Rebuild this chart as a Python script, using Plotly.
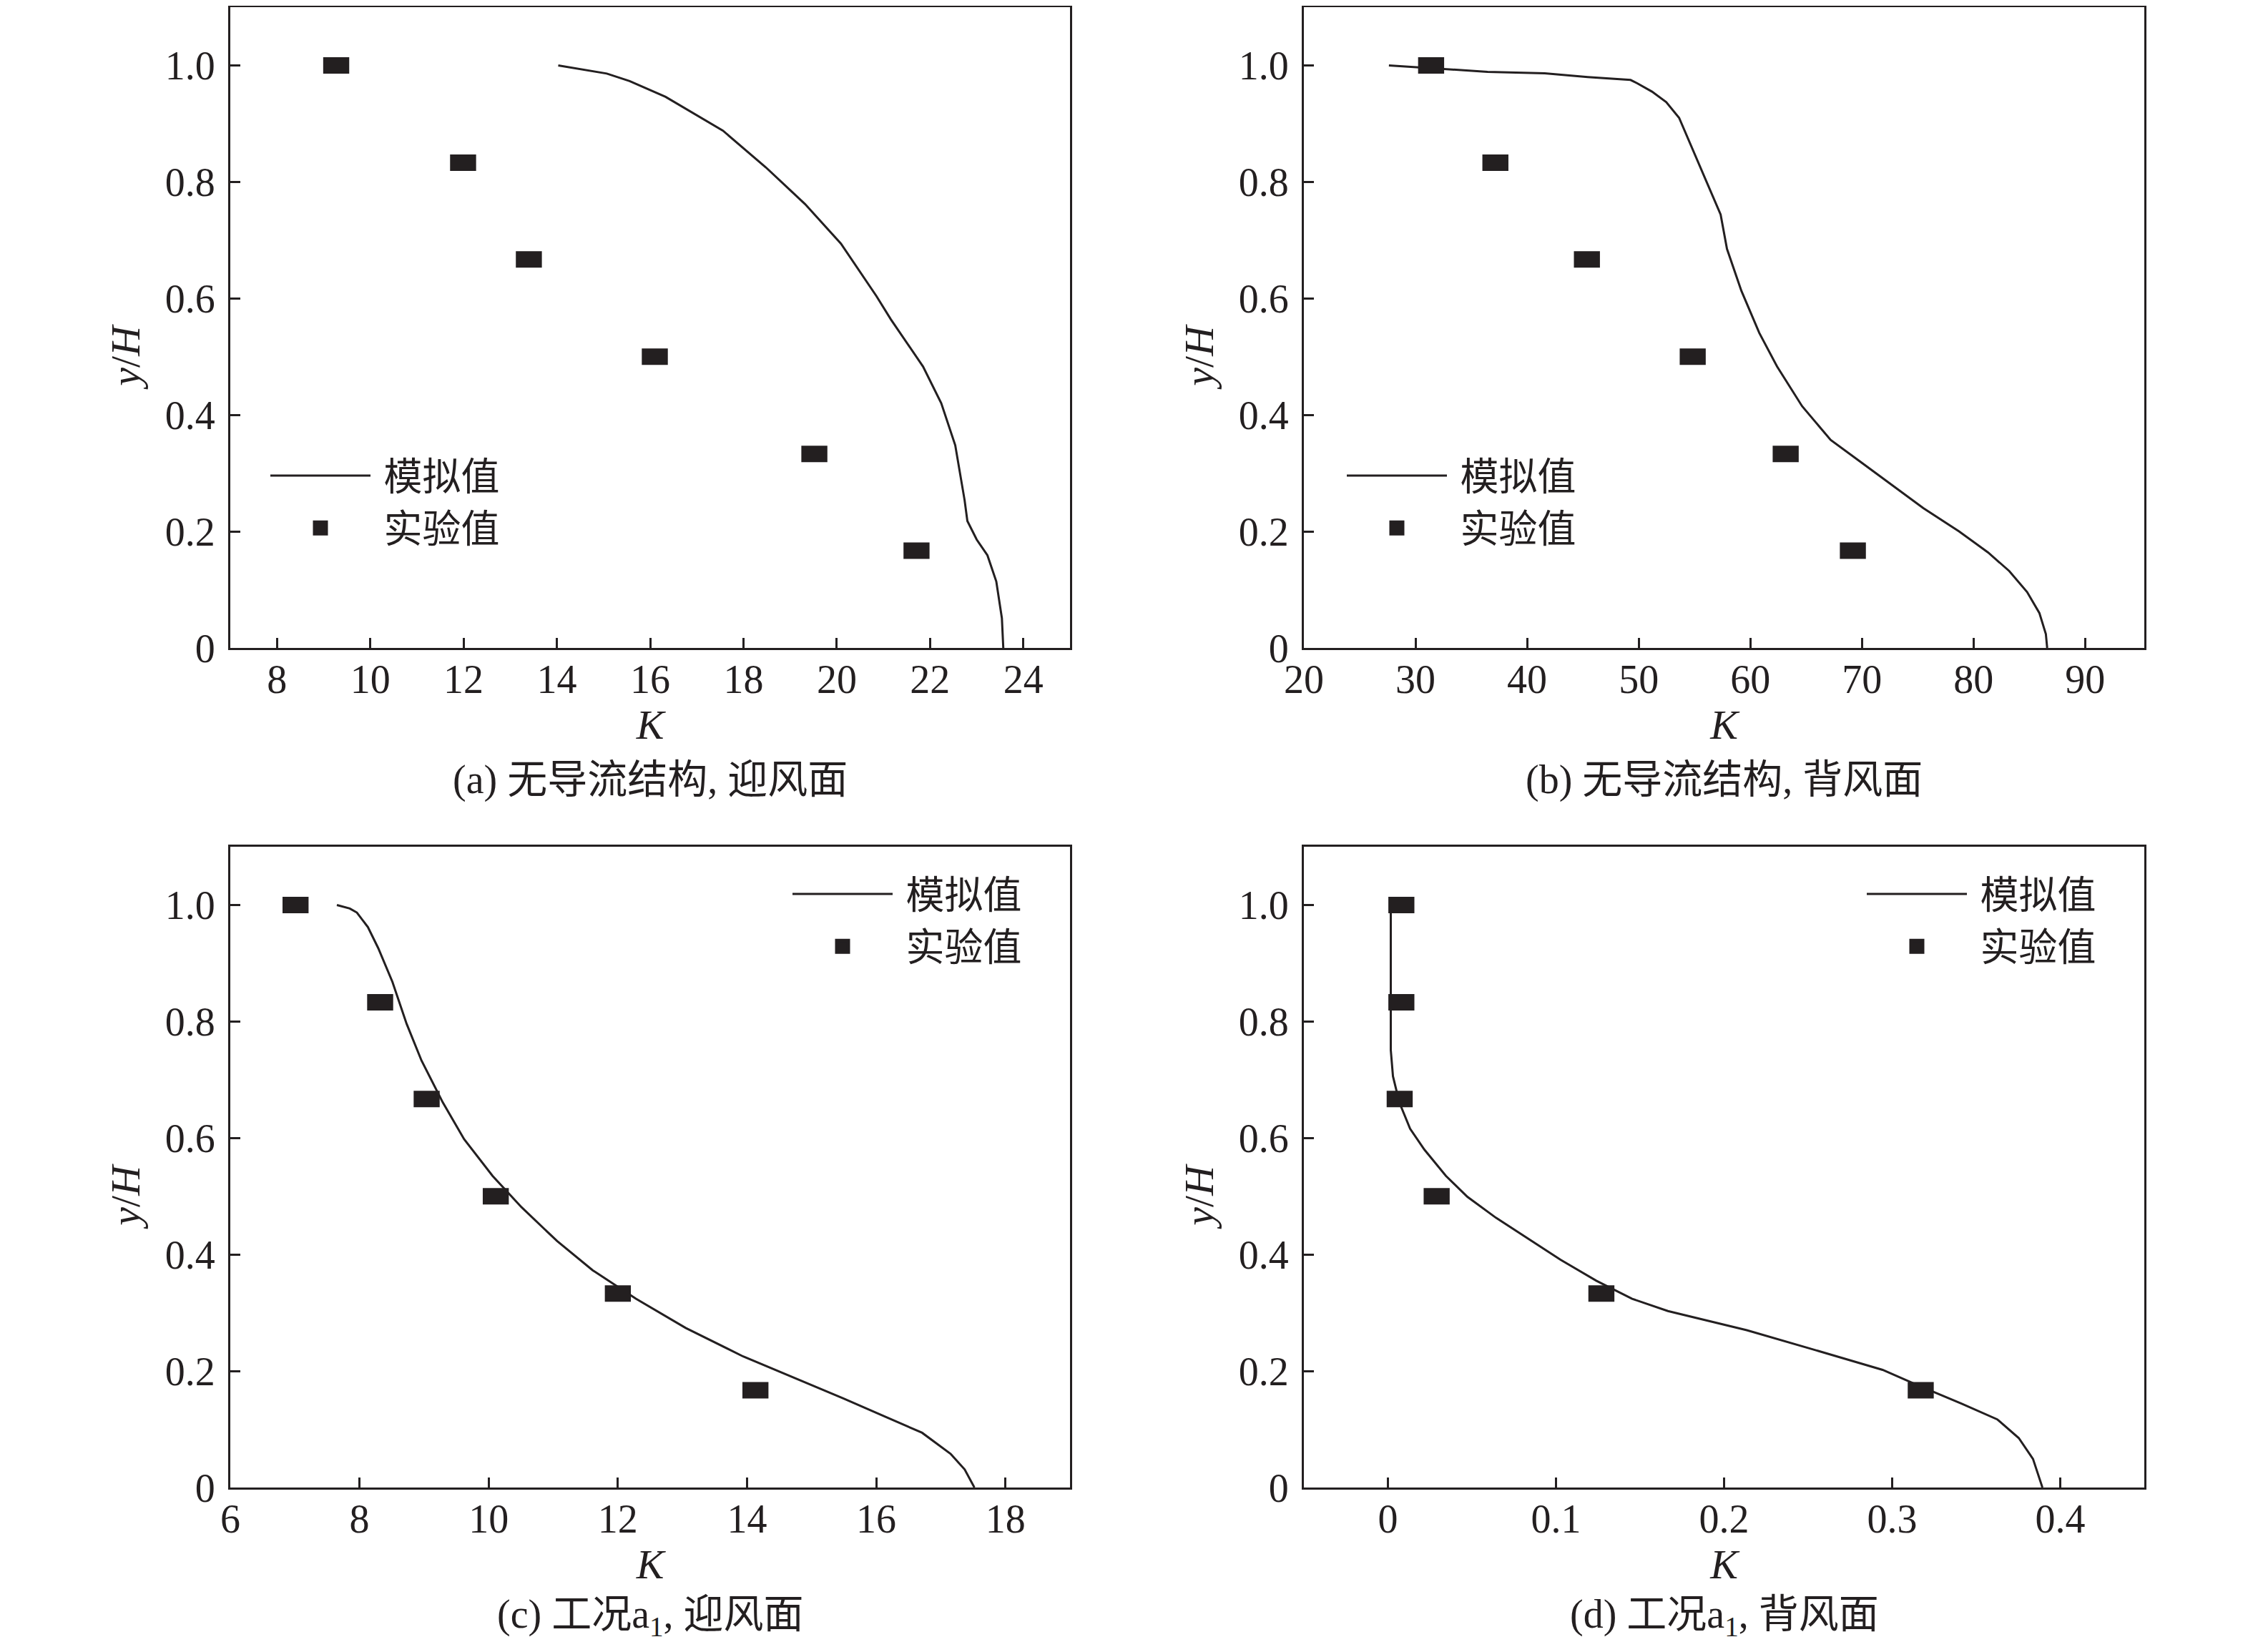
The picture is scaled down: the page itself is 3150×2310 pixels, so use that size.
import plotly.graph_objects as go

INK = "#231f20"
FONT = "Liberation Serif, 'Times New Roman', 'Noto Sans CJK SC', serif"
W, H = 3150, 2310

# heights of the six measuring points (same for every panel)
y_exp = [1.0, 0.833, 0.667, 0.5, 0.333, 0.167]

# (a) no guide structure, windward
a_k_exp = [9.27, 11.99, 13.40, 16.10, 19.52, 21.71]
a_k_sim = [14.03, 15.07, 15.56, 16.33, 17.56, 18.48, 19.32, 20.09, 20.85, 21.16,
           21.85, 22.24, 22.54, 22.74, 22.80, 23.00, 23.23, 23.42, 23.54, 23.57]
a_y_sim = [1.0, 0.986, 0.973, 0.946, 0.888, 0.825, 0.762, 0.694, 0.604, 0.564,
           0.483, 0.420, 0.348, 0.254, 0.218, 0.186, 0.159, 0.114, 0.051, 0.0]

# (b) no guide structure, leeward
b_k_exp = [31.4, 37.16, 45.36, 54.84, 63.17, 69.19]
b_k_sim = [27.62, 31.34, 36.46, 41.58, 45.43, 49.27, 49.9, 51.19, 52.47, 53.62,
           55.03, 56.95, 57.34, 57.91, 59.2, 60.8, 62.4, 64.64, 67.2, 69.76,
           72.3, 75.5, 78.7, 81.3, 83.2, 84.8, 85.9, 86.48, 86.6]
b_y_sim = [1.0, 0.9955, 0.989, 0.9865, 0.980, 0.975, 0.969, 0.955, 0.937, 0.910,
           0.847, 0.762, 0.744, 0.685, 0.613, 0.541, 0.483, 0.415, 0.357, 0.321,
           0.285, 0.240, 0.200, 0.164, 0.132, 0.096, 0.060, 0.024, 0.0]

# (c) case a1, windward
c_k_exp = [7.01, 8.32, 9.04, 10.11, 12.0, 14.13]
c_k_sim = [7.65, 7.85, 7.96, 8.13, 8.29, 8.51, 8.73, 8.96, 9.29, 9.62, 10.06,
           10.51, 11.06, 11.61, 12.28, 13.05, 13.94, 14.71, 15.49, 16.15, 16.71,
           17.15, 17.37, 17.52]
c_y_sim = [1.0, 0.994, 0.987, 0.962, 0.926, 0.868, 0.796, 0.733, 0.661, 0.598,
           0.535, 0.481, 0.423, 0.373, 0.324, 0.274, 0.225, 0.189, 0.153, 0.121,
           0.094, 0.058, 0.031, 0.0]

# (d) case a1, leeward
d_k_exp = [0.008, 0.008, 0.007, 0.029, 0.127, 0.317]
d_k_sim = [0.0017, 0.0017, 0.0017, 0.003, 0.0068, 0.0132, 0.0217, 0.0345, 0.0473,
           0.0643, 0.0856, 0.1027, 0.124, 0.1453, 0.1666, 0.1879, 0.2135, 0.2518,
           0.2943, 0.3156, 0.3412, 0.3625, 0.3753, 0.3838, 0.3894]
d_y_sim = [1.0, 0.859, 0.751, 0.706, 0.661, 0.616, 0.580, 0.535, 0.499, 0.463,
           0.423, 0.391, 0.355, 0.324, 0.303, 0.288, 0.270, 0.238, 0.202, 0.175,
           0.144, 0.117, 0.085, 0.049, 0.0]

y_ticks = [0, 0.2, 0.4, 0.6, 0.8, 1.0]
y_ticktext = ["0", "0.2", "0.4", "0.6", "0.8", "1.0"]
a_ticks = [8, 10, 12, 14, 16, 18, 20, 22, 24]
b_ticks = [20, 30, 40, 50, 60, 70, 80, 90]
c_ticks = [6, 8, 10, 12, 14, 16, 18]
d_ticks = [0, 0.1, 0.2, 0.3, 0.4]
d_ticktext = ["0", "0.1", "0.2", "0.3", "0.4"]

captions = ["(a) 无导流结构, 迎风面", "(b) 无导流结构, 背风面",
            "(c) 工况a<sub>1</sub>, 迎风面", "(d) 工况a<sub>1</sub>, 背风面"]
sim_name = " 模拟值"
exp_name = " 实验值"
x_title = "<i>K</i>"
y_title = "<i>y</i>/<i>H</i>"


def px(x):
    return x / W


def py(y):
    return 1 - y / H


panels = [
    # k_sim, y_sim, k_exp, xrange, xticks, xticktext, xdomain(px), ydomain(px), legend pos(px)
    (a_k_sim, a_y_sim, a_k_exp, [7, 25], a_ticks, None, (314, 1488), (2, 898), (365, 694)),
    (b_k_sim, b_y_sim, b_k_exp, [20, 95.3], b_ticks, None, (1815, 2990), (2, 898), (1870, 694)),
    (c_k_sim, c_y_sim, c_k_exp, [6, 19], c_ticks, None, (314, 1488), (1176, 2072), (1095, 1279)),
    (d_k_sim, d_y_sim, d_k_exp, [-0.05, 0.45], d_ticks, d_ticktext, (1815, 2990), (1176, 2072), (2597, 1279)),
]

fig = go.Figure()
layout = dict(width=W, height=H,
              margin=dict(l=0, r=0, t=0, b=0, autoexpand=False),
              paper_bgcolor="white", plot_bgcolor="white",
              font=dict(family=FONT, size=56, color=INK))
annotations = []

for i, (ks, ys, ke, xr, xt, xtt, xd, yd, lg) in enumerate(panels):
    n = "" if i == 0 else str(i + 1)
    xa, ya = "x" + n, "y" + n
    leg = "legend" + n

    fig.add_trace(go.Scatter(x=ks, y=ys, mode="lines", name=sim_name,
                             line=dict(color=INK, width=3),
                             xaxis=xa, yaxis=ya, legend=leg))
    # legend-only entry for the measured points
    fig.add_trace(go.Scatter(x=[None], y=[None], mode="markers", name=exp_name,
                             marker=dict(symbol="square", size=16, color=INK,
                                         line=dict(color=INK, width=5)),
                             xaxis=xa, yaxis=ya, legend=leg))
    # measured points drawn as flat rectangles
    fig.add_trace(go.Scatter(x=ke, y=y_exp, mode="markers", name=exp_name,
                             showlegend=False,
                             marker=dict(symbol="line-ew", size=26, color=INK,
                                         line=dict(color=INK, width=23)),
                             xaxis=xa, yaxis=ya))

    axis_common = dict(showline=True, linecolor=INK, linewidth=3, mirror=True,
                       ticks="inside", ticklen=14, tickwidth=3, tickcolor=INK,
                       showgrid=False, zeroline=False, automargin=False,
                       tickfont=dict(family=FONT, size=56, color=INK))
    layout["xaxis" + n] = dict(axis_common, domain=[px(xd[0]), px(xd[1])],
                               range=xr, tickvals=xt,
                               ticktext=xtt if xtt else [str(v) for v in xt],
                               anchor=ya, ticklabelstandoff=-7,
                               title=dict(text=x_title, standoff=4,
                                          font=dict(family=FONT, size=58, color=INK)))
    layout["yaxis" + n] = dict(axis_common, domain=[py(yd[1]), py(yd[0])],
                               range=[0, 1.1], tickvals=y_ticks, ticktext=y_ticktext,
                               anchor=xa, ticklabelstandoff=7)
    layout[leg] = dict(x=px(lg[0]), y=py(lg[1]), xanchor="left", yanchor="middle",
                       bgcolor="rgba(0,0,0,0)", borderwidth=0, itemwidth=140,
                       font=dict(family=FONT, size=54, color=INK))

    # y/H label sits level with y/H = 0.5, left of the tick labels
    annotations.append(dict(text=y_title, xref="paper", yref=ya,
                            x=px(xd[0] - 146), y=0.5, textangle=-90,
                            xanchor="center", yanchor="middle", showarrow=False,
                            font=dict(family=FONT, size=58, color=INK)))
    cap_y = 1082 if i < 2 else 2253
    annotations.append(dict(text=captions[i], xref="paper", yref="paper",
                            x=px((xd[0] + xd[1]) / 2), y=py(cap_y),
                            xanchor="center", yanchor="middle", showarrow=False,
                            font=dict(family=FONT, size=56, color=INK)))

layout["annotations"] = annotations
fig.update_layout(**layout)

fig.write_html("out.html")
